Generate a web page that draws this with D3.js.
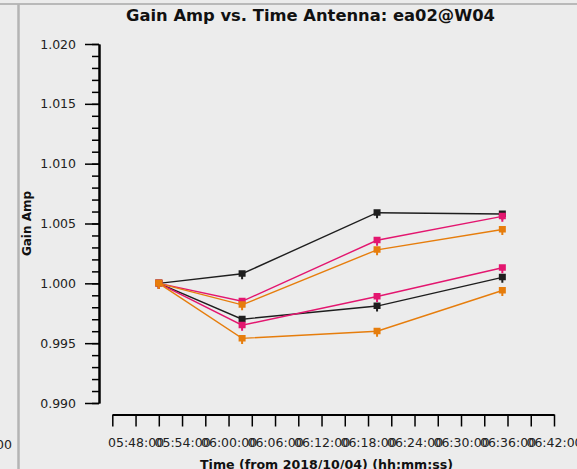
<!DOCTYPE html>
<html>
<head>
<meta charset="utf-8">
<script src="https://cdn.jsdelivr.net/npm/d3@7/dist/d3.min.js"></script>
<style>
  body { margin: 0; background: #ececec; }
  svg { display: block; }
  .tick text { font-family: "DejaVu Sans", sans-serif; font-size: 12.5px; fill: #222; }
</style>
</head>
<body>
<svg class="plot" width="577" height="469"></svg>
<script>
// scan times (UTC, 2018/10/04) and gain amplitudes per antenna solution
const times = ["05:51:00", "06:01:45", "06:19:10", "06:35:20"]
const blackUpper = [1.0000, 1.0008, 1.0059, 1.0058]
const pinkUpper = [1.0000, 0.9985, 1.0036, 1.0056]
const orangeUpper = [1.0000, 0.9982, 1.0028, 1.0045]
const blackLower = [1.0000, 0.9970, 0.9981, 1.0005]
const pinkLower = [1.0000, 0.9965, 0.9989, 1.0013]
const orangeLower = [1.0000, 0.9954, 0.9960, 0.9994]

const yTicks = [0.990, 0.995, 1.000, 1.005, 1.010, 1.015, 1.020]
const xStart = "05:45:00"
const xEnd = "06:42:00"

const parseTime = d3.utcParse("%H:%M:%S")
const svg = d3.select("svg.plot")

// frame lines of the plotms window
svg.append("line").attr("x1", 0).attr("x2", 577).attr("y1", 4).attr("y2", 4)
	.attr("stroke", "#a8a8a8").attr("stroke-width", 1.5)
svg.append("line").attr("x1", 18.5).attr("x2", 18.5).attr("y1", 4).attr("y2", 469)
	.attr("stroke", "#b4b4b4").attr("stroke-width", 2.5)
// leftover label of the neighbouring panel
svg.append("text").attr("x", 12).attr("y", 449).attr("text-anchor", "end")
	.style("font-family", "DejaVu Sans").style("font-size", "12.5px").attr("fill", "#222")
	.text("00")

const x = d3.scaleUtc()
	.domain([parseTime(xStart), parseTime(xEnd)])
	.range([112.3, 554])

const y = d3.scaleLinear()
	.domain([0.990, 1.020])
	.range([403, 44])

// x axis, a tick every 3 minutes, label every other tick
const xTickValues = d3.utcMinute.every(3).range(parseTime(xStart), d3.utcMinute.offset(parseTime(xEnd), 1))
const timeFormat = d3.utcFormat("%H:%M:%S")
svg.append("g")
	.attr("transform", "translate(0,414.5)")
	.call(d3.axisBottom(x)
		.tickValues(xTickValues)
		.tickSize(12)
		.tickSizeOuter(0)
		.tickPadding(12)
		.tickFormat((d, i) => { return i % 2 === 1 ? timeFormat(d) : "" }))

// y axis, major + minor ticks
const yMinor = d3.range(0, 31).map(i => 0.990 + i * 0.001)
svg.append("g")
	.attr("transform", "translate(99,0)")
	.call(d3.axisLeft(y).tickValues(yMinor).tickSize(7).tickSizeOuter(0).tickFormat(""))
svg.append("g")
	.attr("transform", "translate(99,0)")
	.call(d3.axisLeft(y)
		.tickValues(yTicks)
		.tickSize(14)
		.tickSizeOuter(0)
		.tickPadding(9)
		.tickFormat(d3.format(".3f")))

svg.selectAll(".domain").attr("stroke", "#000").attr("stroke-width", 2)
svg.selectAll(".tick line").attr("stroke", "#000").attr("stroke-width", 1.5)

// series
const series = [
	{ values: blackUpper, color: "#1e1e1e" },
	{ values: blackLower, color: "#1e1e1e" },
	{ values: pinkUpper, color: "#e3166f" },
	{ values: pinkLower, color: "#e3166f" },
	{ values: orangeUpper, color: "#e67d0c" },
	{ values: orangeLower, color: "#e67d0c" }
]

const line = d3.line()
	.x((d, i) => { return x(parseTime(times[i])) })
	.y(d => { return y(d) })

const marker = "M-3.5,-3.5h7v6.5h-2.5v2.5h-2v-2.5h-2.5z"

const seriesGroups = svg.selectAll("g.series")
	.data(series)
	.enter()
	.append("g")
	.attr("class", "series")

seriesGroups.append("path")
	.attr("d", d => { return line(d.values) })
	.attr("fill", "none")
	.attr("stroke", d => { return d.color })
	.attr("stroke-width", 1.4)

seriesGroups.selectAll("path.pt")
	.data(d => { return d.values.map((v, i) => ({ v: v, t: times[i], color: d.color })) })
	.enter()
	.append("path")
	.attr("class", "pt")
	.attr("d", marker)
	.attr("fill", d => { return d.color })
	.attr("transform", d => { return "translate(" + x(parseTime(d.t)) + "," + y(d.v) + ")" })

// titles
svg.append("text")
	.attr("x", 310.5).attr("y", 21)
	.attr("text-anchor", "middle")
	.attr("textLength", 369).attr("lengthAdjust", "spacingAndGlyphs")
	.style("font-family", "DejaVu Sans").style("font-weight", "bold").style("font-size", "16px")
	.attr("fill", "#111")
	.text("Gain Amp vs. Time Antenna: ea02@W04")

svg.append("text")
	.attr("x", 326.5).attr("y", 469)
	.attr("text-anchor", "middle")
	.attr("textLength", 253).attr("lengthAdjust", "spacingAndGlyphs")
	.style("font-family", "DejaVu Sans").style("font-weight", "bold").style("font-size", "12.5px")
	.attr("fill", "#111")
	.text("Time (from 2018/10/04) (hh:mm:ss)")

svg.append("text")
	.attr("transform", "translate(31,223.5) rotate(-90)")
	.attr("text-anchor", "middle")
	.style("font-family", "DejaVu Sans").style("font-weight", "bold").style("font-size", "12px")
	.attr("fill", "#111")
	.text("Gain Amp")
</script>
</body>
</html>
